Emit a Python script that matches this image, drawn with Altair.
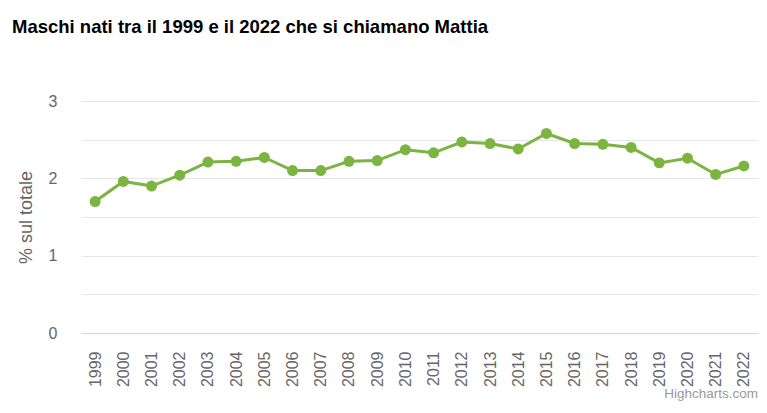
import altair as alt
import pandas as pd

# Share (%) of newborn boys named Mattia, by birth year
years = [str(y) for y in range(1999, 2023)]
share = [1.70, 1.96, 1.90, 2.04, 2.21, 2.22, 2.27, 2.10, 2.10, 2.22, 2.23, 2.37,
         2.33, 2.47, 2.45, 2.38, 2.58, 2.45, 2.44, 2.40, 2.20, 2.26, 2.05, 2.16]
y_ticks = [0, 0.5, 1, 1.5, 2, 2.5, 3]

df = pd.DataFrame({"anno": years, "quota": share})

FONT = "Liberation Sans"
GREEN = "#7cb441"

line = alt.Chart(df).mark_line(
    color=GREEN,
    strokeWidth=3,
    point=alt.OverlayMarkDef(color=GREEN, filled=True, size=120, opacity=1),
).encode(
    x=alt.X(
        "anno:O",
        sort=years,
        scale=alt.Scale(type="point", padding=0.5),
        axis=alt.Axis(
            title=None,
            labelAngle=-90,
            labelFontSize=16,
            labelColor="#666666",
            labelFont=FONT,
            labelPadding=18,
            ticks=False,
            domainColor="#ccd6eb",
            domainWidth=1,
            grid=False,
        ),
    ),
    y=alt.Y(
        "quota:Q",
        scale=alt.Scale(domain=[0, 3], nice=False, zero=True),
        axis=alt.Axis(
            title="% sul totale",
            values=y_ticks,
            labelExpr="datum.value % 1 == 0 ? format(datum.value, 'd') : ''",
            labelFontSize=16,
            labelColor="#666666",
            labelFont=FONT,
            labelPadding=24,
            ticks=False,
            domain=False,
            gridColor="#e6e6e6",
            gridWidth=1,
            titleFontSize=18,
            titleFontWeight="normal",
            titleColor="#666666",
            titleFont=FONT,
            titleAngle=-90,
            titleAlign="center",
            titleBaseline="middle",
            titleX=-55,
            titleY=116,
        ),
    ),
)

credit = alt.Chart(pd.DataFrame({"t": ["Highcharts.com"]})).mark_text(
    align="right", baseline="alphabetic", fontSize=13.5, font=FONT, color="#999999"
).encode(
    text="t:N",
    x=alt.value(677),
    y=alt.value(297),
)

chart = alt.layer(line, credit).properties(
    width=677,
    height=232,
    autosize=alt.AutoSizeParams(type="none"),
    padding={"left": 81, "top": 101, "right": 9, "bottom": 80},
    title=alt.TitleParams(
        text="Maschi nati tra il 1999 e il 2022 che si chiamano Mattia",
        anchor="start",
        frame="group",
        font=FONT,
        fontSize=18.5,
        fontWeight="bold",
        color="#000000",
        dx=-69,
        dy=-42,
        baseline="alphabetic",
        offset=0,
    ),
).configure(background="white", view=alt.ViewConfig(stroke=None))

chart.save("out.html", embed_options={"renderer": "svg", "actions": False})
